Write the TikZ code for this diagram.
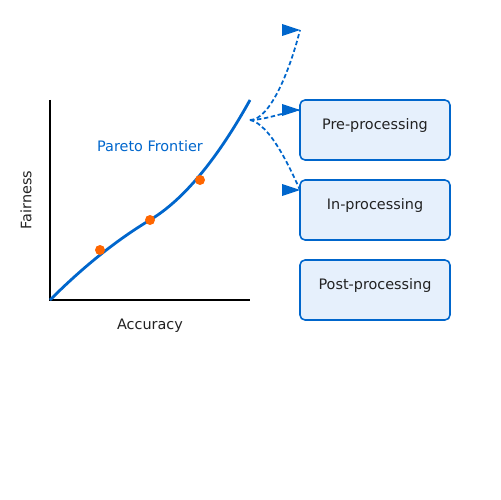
\documentclass[tikz,border=0pt]{standalone}
\usepackage{fontspec}
\setmainfont{DejaVu Sans}
\definecolor{fblue}{HTML}{0066CC}
\definecolor{forange}{HTML}{FF6600}
\definecolor{boxfill}{HTML}{E6F0FC}
\definecolor{txtdark}{HTML}{222222}
\tikzset{
  axis/.style={line width=1.13pt, black},
  frontier/.style={line width=1.6pt, fblue},
  dot/.style={circle, fill=forange, inner sep=0pt, minimum size=0.2cm},
  box/.style={draw=fblue, fill=boxfill, line width=0.9pt, rounded corners=0.1cm, minimum width=3cm, minimum height=1.2cm, inner sep=0pt},
  lbl/.style={font=\fontsize{8.2pt}{9.5pt}\selectfont, text=txtdark, inner sep=0pt},
  conn/.style={fblue, line width=1pt, dash pattern=on 2.5pt off 1.5pt},
  head/.style={fill=fblue, draw=none}
}
\begin{document}
\begin{tikzpicture}[x=0.02cm, y=-0.02cm]
\useasboundingbox (0,0) rectangle (500,500);
% axes
\coordinate (o) at (50,300);
\coordinate (ytop) at (50,100);
\coordinate (xend) at (250,300);
\draw[axis] (ytop) -- (o) -- (xend);
% frontier
\coordinate (fend) at (250,100);
\draw[frontier] (o) .. controls (83.33,266.67) and (116.67,240) .. (150,220) .. controls (183.33,200) and (216.67,160) .. (fend);
\node[dot] (d1) at (100,250) {};
\node[dot] (d2) at (150,220) {};
\node[dot] (d3) at (200,180) {};
\node[lbl, text=fblue] (pf) at (150,146) {Pareto Frontier};
\node[lbl] (acc) at (150,326) {Accuracy};
\node[lbl, rotate=90] (fair) at (26,200) {Fairness};
% boxes
\node[box] (pre) at (375,130) {};
\node[box] (in) at (375,210) {};
\node[box] (post) at (375,290) {};
\node[lbl] (pret) at (375,126) {Pre-processing};
\node[lbl] (int) at (375,206) {In-processing};
\node[lbl] (postt) at (375,286) {Post-processing};
% connectors
\coordinate (src) at (250,120);
\coordinate (t1) at (300,30);
\coordinate (t2) at (300,110);
\coordinate (t3) at (300,190);
\draw[conn] (src) .. controls (270,120) and (290,70) .. (t1);
\draw[conn] (src) .. controls (265,120) and (285,112) .. (t2);
\draw[conn] (src) .. controls (270,124) and (290,168) .. (t3);
\foreach \t in {t1,t2,t3}
  \fill[head] (\t) -- ++(-18,-6) -- ++(0,12) -- cycle;
\end{tikzpicture}
\end{document}
